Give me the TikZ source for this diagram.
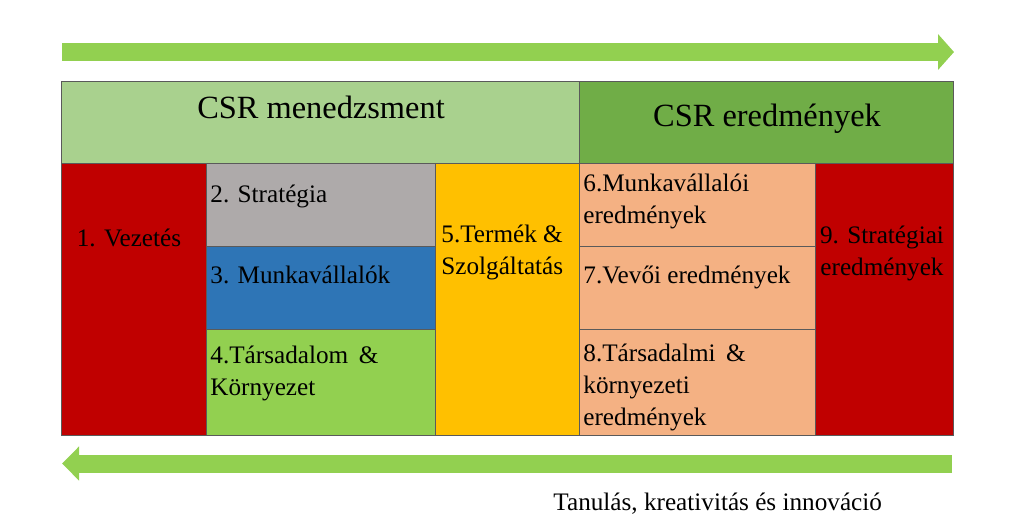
\documentclass[tikz,border=0pt]{standalone}
\usepackage{fontspec}
\setmainfont{Liberation Serif}
\usetikzlibrary{arrows.meta}

\definecolor{arrowgreen}{RGB}{146,208,80}
\definecolor{hdrlight}{RGB}{169,209,142}
\definecolor{hdrdark}{RGB}{112,173,71}
\definecolor{cellred}{RGB}{192,0,0}
\definecolor{cellgrey}{RGB}{174,170,170}
\definecolor{cellblue}{RGB}{46,117,182}
\definecolor{cellgreen}{RGB}{146,208,80}
\definecolor{cellyellow}{RGB}{255,192,0}
\definecolor{cellsalmon}{RGB}{244,177,131}
\definecolor{edgegrey}{RGB}{90,90,90}

\begin{document}
\begin{tikzpicture}[x=0.5pt,y=-0.5pt,
  cell/.style = {draw=edgegrey, line width=0.5pt, inner sep=0pt, outer sep=0pt, anchor=north west},
  lbl/.style = {inner sep=0pt, align=left, anchor=base west, font=\fontsize{12.6}{16}\selectfont},
  title/.style = {inner sep=0pt, anchor=base, font=\fontsize{16.2}{20}\selectfont},
  band/.style = {arrowgreen, line width=9pt}]
\useasboundingbox (0,0) rectangle (1024,526);
% arrows
\coordinate (topL) at (62,52);
\coordinate (topR) at (954,52);
\coordinate (botL) at (62,463.5);
\coordinate (botR) at (952,463.5);
\draw[band, -{Triangle[length=8pt,width=17.5pt]}] (topL) -- (topR);
\draw[band, -{Triangle[length=8.5pt,width=16.5pt]}] (botR) -- (botL);
% header row
\node[cell, fill=hdrlight, minimum width=259pt, minimum height=41pt] (mgmt) at (61,81) {};
\node[cell, fill=hdrdark, minimum width=187pt, minimum height=41pt] (res) at (mgmt.north east) {};
% management cells
\node[cell, fill=cellred, minimum width=72.5pt, minimum height=136pt] (vez) at (mgmt.south west) {};
\node[cell, fill=cellgrey, minimum width=114.5pt, minimum height=41.5pt] (strat) at (vez.north east) {};
\node[cell, fill=cellblue, minimum width=114.5pt, minimum height=41.5pt] (munk) at (strat.south west) {};
\node[cell, fill=cellgreen, minimum width=114.5pt, minimum height=53pt] (tars) at (munk.south west) {};
\node[cell, fill=cellyellow, minimum width=72pt, minimum height=136pt] (term) at (strat.north east) {};
% result cells
\node[cell, fill=cellsalmon, minimum width=118pt, minimum height=41.5pt] (mres) at (term.north east) {};
\node[cell, fill=cellsalmon, minimum width=118pt, minimum height=41.5pt] (vres) at (mres.south west) {};
\node[cell, fill=cellsalmon, minimum width=118pt, minimum height=53pt] (tres) at (vres.south west) {};
\node[cell, fill=cellred, minimum width=69pt, minimum height=136pt] (sres) at (mres.north east) {};
% texts (multi-line ones sit on their last line)
\node[title] (mgmtT) at (321,118) {CSR menedzsment};
\node[title] (resT) at (767,126) {CSR eredmények};
\node[lbl, anchor=base] (vezT) at (129,246) {1. Vezetés};
\node[lbl] (stratT) at (210,202) {2. Stratégia};
\node[lbl] (munkT) at (210,283) {3. Munkavállalók};
\node[lbl] (tarsT) at (210,395) {4.Társadalom\, \&\\Környezet};
\node[lbl] (termT) at (441,274) {5.Termék \&\\Szolgáltatás};
\node[lbl] (mresT) at (583,223) {6.Munkavállalói\\eredmények};
\node[lbl] (vresT) at (583,283) {7.Vevői eredmények};
\node[lbl] (tresT) at (583,425) {8.Társadalmi\, \&\\környezeti\\eredmények};
\node[lbl, align=center, anchor=base] (sresT) at (882,275) {9. Stratégiai\\eredmények};
\node[lbl] (learnT) at (553,510) {Tanulás, kreativitás és innováció};
\end{tikzpicture}
\end{document}
